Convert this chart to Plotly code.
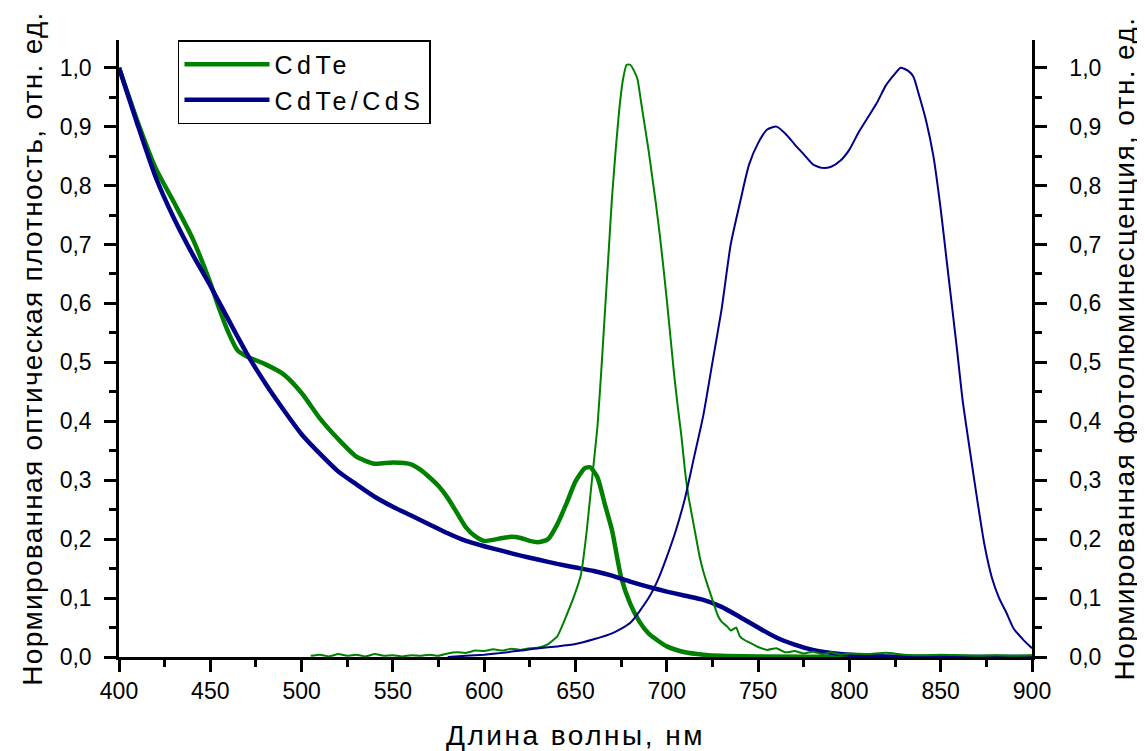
import plotly.graph_objects as go

# ---- data ----
abs_cdte_x = [400, 410, 420, 430, 440, 450, 455, 460, 465, 470, 480, 490, 500, 510, 520, 530, 540, 550,
              560, 565, 570, 575, 580, 585, 590, 595, 600, 610, 615, 620, 625, 630, 635, 640, 645, 650,
              655, 658, 662, 666, 670, 675, 680, 685, 690, 695, 700, 710, 720, 730, 750, 800, 850, 900]
abs_cdte_y = [1.0, 0.91, 0.83, 0.772, 0.712, 0.635, 0.59, 0.55, 0.52, 0.51, 0.497, 0.48, 0.448, 0.405,
              0.37, 0.34, 0.328, 0.33, 0.327, 0.318, 0.305, 0.29, 0.27, 0.245, 0.22, 0.205, 0.197, 0.202,
              0.204, 0.202, 0.197, 0.195, 0.2, 0.225, 0.26, 0.298, 0.32, 0.322, 0.305, 0.26, 0.215, 0.135,
              0.09, 0.06, 0.04, 0.028, 0.018, 0.008, 0.004, 0.002, 0.001, 0.0, 0.0, 0.0]

abs_core_x = [400, 410, 420, 430, 440, 450, 460, 470, 480, 490, 500, 510, 520, 530, 540, 550, 560, 570,
              580, 590, 600, 610, 620, 630, 640, 650, 660, 670, 680, 690, 700, 710, 720, 730, 740, 750,
              760, 770, 780, 790, 800, 820, 850, 900]
abs_core_y = [1.0, 0.905, 0.815, 0.745, 0.685, 0.63, 0.572, 0.515, 0.465, 0.42, 0.378, 0.345, 0.315,
              0.293, 0.272, 0.255, 0.24, 0.225, 0.21, 0.197, 0.188, 0.18, 0.172, 0.165, 0.158, 0.152,
              0.146, 0.138, 0.128, 0.119, 0.111, 0.104, 0.097, 0.085, 0.068, 0.05, 0.033, 0.021, 0.012,
              0.007, 0.004, 0.001, 0.0, 0.0]

pl_cdte_x = [505, 510, 515, 520, 525, 530, 535, 540, 545, 550, 555, 560, 565, 570, 575, 580, 585, 590,
             595, 600, 605, 610, 615, 620, 625, 630, 635, 640, 645, 650, 653, 656, 658, 660, 662, 664,
             666, 668, 670, 672, 674, 676, 678, 680, 682, 684, 686, 688, 690, 692, 694, 696, 698, 700,
             702, 704, 706, 708, 710, 712, 715, 718, 720, 722, 725, 728, 730, 733, 735, 738, 740, 743,
             745, 748, 750, 755, 760, 765, 770, 775, 780, 785, 790, 795, 800, 810, 820, 830, 840, 850,
             860, 870, 880, 890, 900]
pl_cdte_y = [0.002, 0.004, 0.001, 0.005, 0.002, 0.004, 0.001, 0.005, 0.002, 0.003, 0.001, 0.003, 0.002,
             0.004, 0.002, 0.006, 0.008, 0.007, 0.011, 0.01, 0.013, 0.011, 0.014, 0.012, 0.015, 0.016,
             0.022, 0.035, 0.07, 0.11, 0.14, 0.21, 0.27, 0.33, 0.39, 0.48, 0.58, 0.68, 0.78, 0.86, 0.93,
             0.98, 1.005, 1.005, 0.995, 0.98, 0.94, 0.9, 0.86, 0.815, 0.77, 0.72, 0.665, 0.606, 0.543,
             0.48, 0.425, 0.375, 0.315, 0.27, 0.22, 0.17, 0.145, 0.125, 0.097, 0.07, 0.06, 0.052, 0.045,
             0.05, 0.035, 0.028, 0.025, 0.02, 0.017, 0.012, 0.015, 0.008, 0.01, 0.006, 0.009, 0.005,
             0.008, 0.004, 0.006, 0.005, 0.007, 0.004, 0.003, 0.004, 0.003, 0.002, 0.003, 0.002, 0.003]

pl_core_x = [580, 590, 600, 610, 620, 630, 640, 650, 660, 670, 680, 690, 695, 700, 705, 710, 715, 720,
             725, 730, 735, 740, 745, 750, 755, 760, 765, 770, 775, 780, 785, 790, 795, 800, 805, 810,
             815, 820, 825, 828, 832, 835, 838, 842, 846, 850, 853, 856, 859, 862, 866, 870, 874, 878,
             882, 886, 890, 895, 900]
pl_core_y = [0.0, 0.002, 0.004, 0.007, 0.011, 0.015, 0.018, 0.022, 0.03, 0.04, 0.058, 0.1, 0.13, 0.17,
             0.215, 0.27, 0.34, 0.41, 0.5, 0.59, 0.7, 0.77, 0.835, 0.872, 0.895, 0.9, 0.888, 0.87, 0.853,
             0.836, 0.83, 0.832, 0.842, 0.861, 0.89, 0.915, 0.94, 0.97, 0.99, 1.0, 0.995, 0.985, 0.955,
             0.91, 0.85, 0.76, 0.68, 0.6, 0.52, 0.436, 0.35, 0.267, 0.19, 0.135, 0.1, 0.075, 0.048,
             0.03, 0.015]

x_ticks = [400, 450, 500, 550, 600, 650, 700, 750, 800, 850, 900]
y_ticks = [0.0, 0.1, 0.2, 0.3, 0.4, 0.5, 0.6, 0.7, 0.8, 0.9, 1.0]

GREEN = "#008000"
NAVY = "#000088"
FONT = "Liberation Sans, Arial, sans-serif"


def spaced(text, px):
    return '<span style="letter-spacing:%spx">%s</span>' % (px, text)


fig = go.Figure()
fig.add_trace(go.Scatter(x=pl_cdte_x, y=pl_cdte_y, mode="lines", yaxis="y2",
                         line=dict(color=GREEN, width=2, shape="spline", smoothing=0.4), showlegend=False))
fig.add_trace(go.Scatter(x=pl_core_x, y=pl_core_y, mode="lines", yaxis="y2",
                         line=dict(color=NAVY, width=2, shape="spline", smoothing=0.6), showlegend=False))
fig.add_trace(go.Scatter(x=abs_cdte_x, y=abs_cdte_y, mode="lines", name=spaced("CdTe", 4.5),
                         line=dict(color=GREEN, width=4.5, shape="spline", smoothing=0.6)))
fig.add_trace(go.Scatter(x=abs_core_x, y=abs_core_y, mode="lines", name=spaced("CdTe/CdS", 4.5),
                         line=dict(color=NAVY, width=4.5, shape="spline", smoothing=0.6)))

axis_common = dict(showgrid=False, zeroline=False, showline=True, linecolor="black", linewidth=2.5,
                   ticks="outside", tickwidth=2.5, ticklen=12, tickcolor="black",
                   tickfont=dict(family=FONT, size=23, color="black"))
minor_y = dict(dtick=0.05, tick0=0, ticks="outside", ticklen=7, tickwidth=2.5, tickcolor="black")
yr = [0, 1.047]

# the page body adds an 8 px offset, so the figure is sized 8 px smaller
fig.update_layout(
    width=1137, height=743,
    margin=dict(l=111, r=113, t=32, b=94, autoexpand=False),
    paper_bgcolor="white", plot_bgcolor="white",
    separators=", ",
    font=dict(family=FONT, color="black"),
    xaxis=dict(range=[400, 900], tickvals=x_ticks, tickformat="d",
               minor=dict(dtick=25, tick0=400, ticks="outside", ticklen=7, tickwidth=2.5, tickcolor="black"),
               title=dict(text=spaced("Длина волны, нм", 2.5), font=dict(family=FONT, size=28), standoff=24),
               **axis_common),
    yaxis=dict(range=yr, tickvals=y_ticks, tickformat=".1f", minor=minor_y, ticklabelstandoff=8,
               title=dict(text=spaced("Нормированная оптическая плотность, отн. ед.", 1.3),
                          font=dict(family=FONT, size=28), standoff=9),
               **axis_common),
    yaxis2=dict(range=yr, tickvals=y_ticks, tickformat=".1f", overlaying="y", side="right",
                minor=minor_y, ticklabelstandoff=18,
                title=dict(text=spaced("Нормированная фотолюминесценция, отн. ед.", 1.4),
                           font=dict(family=FONT, size=28), standoff=14),
                **axis_common),
    legend=dict(x=0.0646, y=1.0, xanchor="left", yanchor="top", bordercolor="black", borderwidth=1.5,
                bgcolor="white", font=dict(family=FONT, size=25, color="black"), itemwidth=85,
                tracegroupgap=0),
)

fig.write_html("out.html")
